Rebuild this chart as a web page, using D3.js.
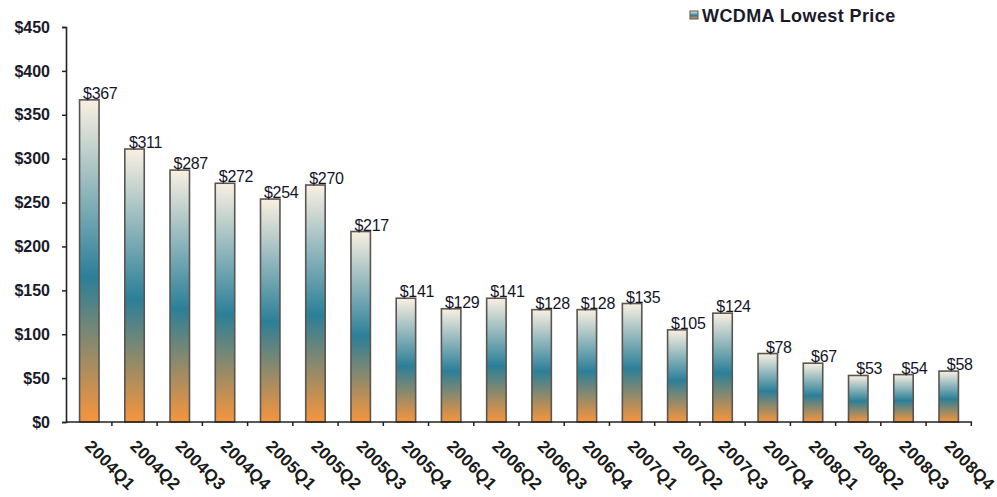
<!DOCTYPE html>
<html lang="en">
<head>
  <meta charset="UTF-8" />
  <title>WCDMA Lowest Price</title>
  <script src="https://d3js.org/d3.v7.min.js"></script>
  <style>
    body {
      margin: 0;
      padding: 0;
      background: #fff;
      font-family: Arial, "Liberation Sans", sans-serif;
    }
    .tick-y text { font-weight: bold; }
  </style>
</head>
<body>
  <div id="chart"></div>

  <script>
    const quarters = ["2004Q1", "2004Q2", "2004Q3", "2004Q4", "2005Q1", "2005Q2", "2005Q3", "2005Q4",
                      "2006Q1", "2006Q2", "2006Q3", "2006Q4", "2007Q1", "2007Q2", "2007Q3", "2007Q4",
                      "2008Q1", "2008Q2", "2008Q3", "2008Q4"];
    const prices = [367, 311, 287, 272, 254, 270, 217, 141, 129, 141, 128, 128, 135, 105, 124, 78, 67, 53, 54, 58];
    const yTicks = [0, 50, 100, 150, 200, 250, 300, 350, 400, 450];
    const seriesName = "WCDMA Lowest Price";

    const width = 997, height = 497;
    const margin = { top: 27, right: 25, bottom: 75, left: 66 };

    const svg = d3.select("#chart")
      .append("svg")
      .attr("width", width)
      .attr("height", height);

    // bar gradient: cream top, teal middle, orange bottom
    const defs = svg.append("defs");
    const grad = defs.append("linearGradient")
      .attr("id", "barGrad")
      .attr("x1", "0%").attr("y1", "0%")
      .attr("x2", "0%").attr("y2", "100%");
    grad.append("stop").attr("offset", "0%").attr("stop-color", "#faf0e2");
    grad.append("stop").attr("offset", "55%").attr("stop-color", "#2b7f98");
    grad.append("stop").attr("offset", "100%").attr("stop-color", "#f7953c");

    const x = d3.scaleBand()
      .domain(quarters)
      .range([margin.left, width - margin.right])
      .paddingInner(0.57)
      .paddingOuter(0.3);

    const y = d3.scaleLinear()
      .domain([0, 450])
      .range([height - margin.bottom, margin.top]);

    // bars
    svg.selectAll("rect.bar")
      .data(prices)
      .enter()
      .append("rect")
      .attr("class", "bar")
      .attr("x", (d, i) => x(quarters[i]))
      .attr("y", d => y(d))
      .attr("width", x.bandwidth())
      .attr("height", d => y(0) - y(d))
      .attr("fill", "url(#barGrad)")
      .attr("stroke", "#5a5550")
      .attr("stroke-width", 1.6);

    // value labels
    svg.selectAll("text.val")
      .data(prices)
      .enter()
      .append("text")
      .attr("class", "val")
      .attr("x", (d, i) => x(quarters[i]) + x.bandwidth() / 2 + 11)
      .attr("y", d => y(d) - 1)
      .attr("text-anchor", "middle")
      .attr("font-size", 16)
      .attr("letter-spacing", -0.3)
      .attr("fill", "#141428")
      .text(d => "$" + d);

    // y axis
    const yAxis = svg.append("g")
      .attr("class", "tick-y")
      .attr("transform", `translate(${margin.left},0)`)
      .call(d3.axisLeft(y).tickValues(yTicks).tickFormat(d => "$" + d).tickSize(4).tickPadding(12));
    yAxis.selectAll("text")
      .attr("font-size", 16)
      .attr("font-family", "Arial, 'Liberation Sans', sans-serif")
      .attr("fill", "#1a1a2a");
    yAxis.select(".domain").attr("stroke", "#222").attr("stroke-width", 1.6);
    yAxis.selectAll(".tick line").attr("stroke", "#222").attr("stroke-width", 1.5);

    // x axis: ticks between categories
    const xAxisG = svg.append("g")
      .attr("transform", `translate(0,${y(0)})`);
    xAxisG.append("line")
      .attr("x1", margin.left).attr("x2", width - margin.right)
      .attr("stroke", "#222").attr("stroke-width", 1.6);
    const step = x.step();
    const boundaries = quarters.map((q, i) => x(q) + x.bandwidth() / 2 + step / 2);
    xAxisG.selectAll("line.tk")
      .data(boundaries)
      .enter()
      .append("line")
      .attr("class", "tk")
      .attr("x1", d => d).attr("x2", d => d)
      .attr("y1", 0).attr("y2", 4)
      .attr("stroke", "#222").attr("stroke-width", 1.5);

    xAxisG.selectAll("text.xl")
      .data(quarters)
      .enter()
      .append("text")
      .attr("class", "xl")
      .attr("transform", d => `translate(${x(d) + x.bandwidth() / 2 - 1},${21}) rotate(45)`)
      .attr("font-size", 17)
      .attr("font-weight", "bold")
      .attr("letter-spacing", 0.3)
      .attr("fill", "#1a1a1a")
      .attr("dy", "0.35em")
      .text(d => d);

    // legend
    const lg = svg.append("g").attr("transform", "translate(690,11)");
    lg.append("rect")
      .attr("width", 8).attr("height", 8)
      .attr("fill", "url(#barGrad)")
      .attr("stroke", "#5a5550").attr("stroke-width", 1);
    lg.append("text")
      .attr("x", 12).attr("y", 11)
      .attr("font-size", 18)
      .attr("font-weight", "bold")
      .attr("letter-spacing", 0.4)
      .attr("fill", "#1a1a2a")
      .text(seriesName);
  </script>
</body>
</html>
